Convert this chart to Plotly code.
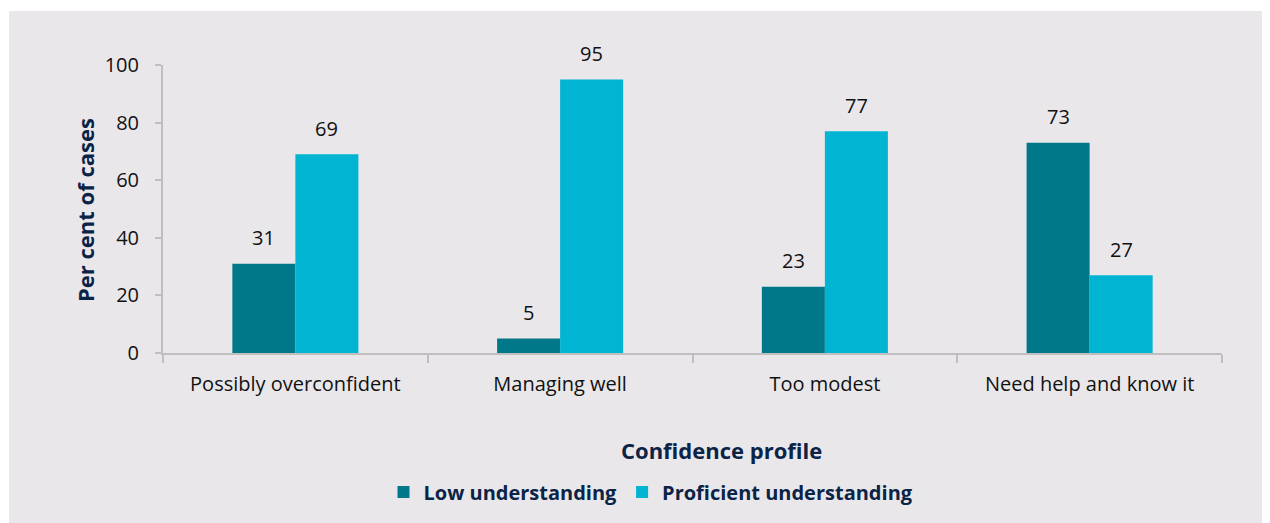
import plotly.graph_objects as go

categories = ["Possibly overconfident", "Managing well", "Too modest", "Need help and know it"]
low_values = [31, 5, 23, 73]
proficient_values = [69, 95, 77, 27]
series_names = ["Low understanding", "Proficient understanding"]
y_ticks = [0, 20, 40, 60, 80, 100]

OFF = 8  # default page body margin
W, H = 1270 - OFF, 523 - OFF
L = 163 - OFF
R = W - (1222 - OFF)
T = 65 - OFF
B = H - (353 - OFF)
pw, ph = W - L - R, H - T - B

def px_x(x):
    return (x - OFF - L) / pw

def px_y(y):
    return (H - B - (y - OFF)) / ph

font_family = "Open Sans, Lato, sans-serif"
navy = "#0B2347"
colors = ["#00788A", "#00B4D2"]
bargap = 0.524
bar_px = pw / len(categories) * (1 - bargap) / 2

fig = go.Figure()
for name, vals, col in zip(series_names, [low_values, proficient_values], colors):
    fig.add_trace(go.Bar(
        x=categories, y=vals, name=name,
        marker=dict(color=col, line=dict(width=0)),
    ))

annotations = []
for k, vals in enumerate([low_values, proficient_values]):
    shift = (k - 0.5) * bar_px
    for c, v in zip(categories, vals):
        annotations.append(dict(
            x=c, y=v, xref="x", yref="y", text=str(v), showarrow=False,
            xshift=shift, yshift=26, xanchor="center", yanchor="middle",
            font=dict(size=20, color="#111111", family=font_family),
        ))

annotations += [
    dict(text="Confidence profile", xref="paper", yref="paper",
         x=px_x(721), y=px_y(450), xanchor="center", yanchor="middle",
         showarrow=False, font=dict(size=22, color=navy, family=font_family, weight="bold")),
    dict(text="Per cent of cases", xref="paper", yref="paper",
         x=px_x(85), y=px_y(210), xanchor="center", yanchor="middle", textangle=-90,
         showarrow=False, font=dict(size=22, color=navy, family=font_family, weight="bold")),
]

fig.update_layout(
    width=W, height=H,
    margin=dict(l=L, r=R, t=T, b=B, pad=0),
    paper_bgcolor="white",
    plot_bgcolor="rgba(0,0,0,0)",
    barmode="group",
    bargap=bargap,
    bargroupgap=0,
    font=dict(family=font_family, color="#111111"),
    showlegend=True,
    legend=dict(
        orientation="h", x=px_x(651), y=px_y(492), xanchor="center", yanchor="middle",
        font=dict(size=20, color=navy, family=font_family, weight="bold"),
        bgcolor="rgba(0,0,0,0)", itemwidth=30, tracegroupgap=0,
    ),
    xaxis=dict(
        showline=True, linecolor="#BFBFBF", linewidth=2,
        ticks="outside", tickson="boundaries", ticklen=8, tickcolor="#BFBFBF", tickwidth=2,
        tickfont=dict(size=20, color="#111111"), ticklabelstandoff=12,
        showgrid=False,
    ),
    yaxis=dict(
        range=[0, 100], tickvals=y_ticks,
        showline=True, linecolor="#BFBFBF", linewidth=2,
        ticks="outside", ticklen=6, tickcolor="#BFBFBF", tickwidth=2,
        tickfont=dict(size=20, color="#111111"), ticklabelstandoff=12,
        showgrid=False, zeroline=False,
    ),
    shapes=[dict(
        type="rect", xref="paper", yref="paper",
        x0=px_x(9), x1=px_x(1290), y0=px_y(540), y1=px_y(11),
        fillcolor="#E9E7EA", line=dict(width=0), layer="below",
    )],
    annotations=annotations,
)

fig.write_html("out.html")
